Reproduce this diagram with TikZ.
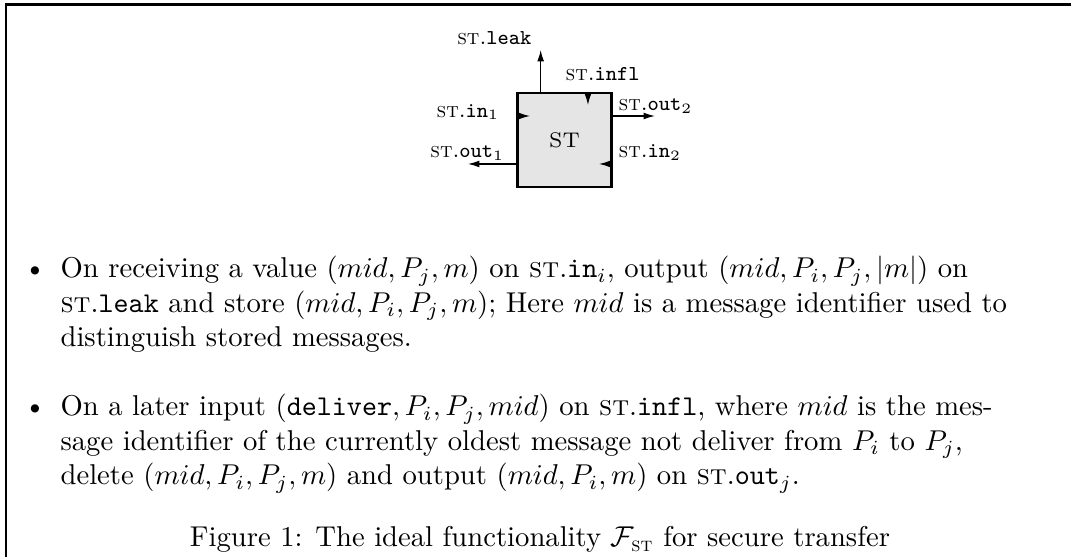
\documentclass[tikz,border=0pt]{standalone}
\usepackage{amsmath}
\usetikzlibrary{arrows.meta, positioning, calc}

\begin{document}
\begin{tikzpicture}[
    x=1.047cm, y=1.047cm,
    port/.style={-{Latex[length=4pt, width=2.4pt]}, line width=0.4pt},
    portlabel/.style={font=\fontsize{7.4}{9}\selectfont, inner sep=0pt}
]
    % === PAGE AREA AND FRAME ===
    \useasboundingbox (0,0) rectangle (12.547,-6.525);
    \draw[line width=0.8pt] (0.068,-7) -- (0.068,-0.053) -- (13,-0.053);

    % === FUNCTIONALITY BOX ===
    \node[draw, line width=0.9pt, fill=gray!20, minimum width=1.15cm, minimum height=1.15cm, font=\fontsize{7.4}{9}\selectfont] (ST) at (6.613,-1.640) {ST};

    % === PORTS ===
    % leak (up, out of the box)
    \coordinate (LeakTip) at (6.334,-0.586);
    \draw[port] (ST.north -| LeakTip) -- (LeakTip);
    \node[portlabel, anchor=base east] (LeakLabel) at (6.232,-0.527) {\textsc{st}.\texttt{leak}};

    % infl (down, into the box)
    \coordinate (InflTip) at (6.888,-1.230);
    \draw[port] (ST.north -| InflTip) -- (InflTip);
    \node[portlabel, anchor=base west] (InflLabel) at (6.619,-0.949) {\textsc{st}.\texttt{infl}};

    % in1 / out1 on the left
    \coordinate (InOneTip) at (6.209,-1.359);
    \draw[port] (ST.west |- InOneTip) -- (InOneTip);
    \node[portlabel, anchor=base east] (InOneLabel) at (5.857,-1.371) {\textsc{st}.\texttt{in}$_1$};

    \coordinate (OutOneTip) at (5.483,-1.921);
    \draw[port] (ST.west |- OutOneTip) -- (OutOneTip);
    \node[portlabel, anchor=base east] (OutOneLabel) at (5.916,-1.851) {\textsc{st}.\texttt{out}$_1$};

    % out2 / in2 on the right
    \coordinate (OutTwoTip) at (7.673,-1.359);
    \draw[port] (ST.east |- OutTwoTip) -- (OutTwoTip);
    \node[portlabel, anchor=base west] (OutTwoLabel) at (7.240,-1.300) {\textsc{st}.\texttt{out}$_2$};

    \coordinate (InTwoTip) at (7.017,-1.921);
    \draw[port] (ST.east |- InTwoTip) -- (InTwoTip);
    \node[portlabel, anchor=base west] (InTwoLabel) at (7.240,-1.851) {\textsc{st}.\texttt{in}$_2$};

    % === DESCRIPTION ===
    \node[anchor=north west, inner sep=0pt, text width=361pt] (Rules) at (-0.136,-2.577) {%
        \setlength{\linewidth}{361pt}%
        \begin{itemize}\setlength{\itemsep}{8.2pt}
        \item On receiving a value $(mid,P_j,m)$ on \textsc{st}.\texttt{in}$_i$, output $(mid,P_i,P_j,|m|)$ on\linebreak
        \textsc{st}.\texttt{leak} and store $(mid,P_i,P_j,m)$; Here $mid$ is a message identifier used to\linebreak
        distinguish stored messages.
        \item On a later input $(\texttt{deliver},P_i,P_j,mid)$ on \textsc{st}.\texttt{infl}, where $mid$ is the mes-\linebreak
        sage identifier of the currently oldest message not deliver from $P_i$ to $P_j$,\linebreak
        delete $(mid,P_i,P_j,m)$ and output $(mid,P_i,m)$ on \textsc{st}.\texttt{out}$_j$.
        \end{itemize}};

    % === CAPTION ===
    \node[anchor=base, inner sep=0pt] (Caption) at (6.326,-6.408) {Figure 1: The ideal functionality $\mathcal{F}_{\textsc{st}}$ for secure transfer};
\end{tikzpicture}
\end{document}
